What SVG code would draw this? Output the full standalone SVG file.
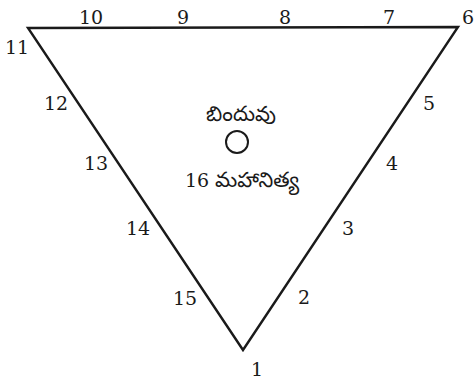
<svg xmlns="http://www.w3.org/2000/svg" width="476" height="379" viewBox="0 0 476 379">
<style>
.n{font-family:"DejaVu Serif","Liberation Serif",serif;font-size:19px;fill:#1a1a1a;text-anchor:middle}
.t{font-family:"Noto Sans Telugu","Noto Serif Telugu","Noto Sans",sans-serif;font-size:21px;fill:#1a1a1a;text-anchor:middle}
.s{font-family:"DejaVu Serif","Liberation Serif",serif;font-size:19px}
.e{fill:none;stroke:#1a1a1a;stroke-width:2.4;stroke-linejoin:miter}
</style>
<rect width="476" height="379" fill="#fff"/>
<g id="connectors">
<polygon class="e" points="28,28 458,27 243,350"/>
</g>
<g id="bindu">
<circle cx="237" cy="142" r="11" fill="none" stroke="#1a1a1a" stroke-width="2"/>
<text class="t" x="241" y="121">బిందువు</text>
</g>
<g id="n16"><text class="t" x="242" y="187"><tspan class="s">16</tspan> మహానిత్య</text></g>
<g id="n1"><text class="n" x="257" y="376">1</text></g>
<g id="n2"><text class="n" x="304" y="304">2</text></g>
<g id="n3"><text class="n" x="348" y="235">3</text></g>
<g id="n4"><text class="n" x="392" y="170">4</text></g>
<g id="n5"><text class="n" x="429" y="110">5</text></g>
<g id="n6"><text class="n" x="468" y="24">6</text></g>
<g id="n7"><text class="n" x="389" y="24">7</text></g>
<g id="n8"><text class="n" x="285" y="24">8</text></g>
<g id="n9"><text class="n" x="183" y="24">9</text></g>
<g id="n10"><text class="n" x="91" y="24">10</text></g>
<g id="n11"><text class="n" x="17" y="54">11</text></g>
<g id="n12"><text class="n" x="56" y="110">12</text></g>
<g id="n13"><text class="n" x="96" y="170">13</text></g>
<g id="n14"><text class="n" x="138" y="235">14</text></g>
<g id="n15"><text class="n" x="185" y="305">15</text></g>
</svg>
